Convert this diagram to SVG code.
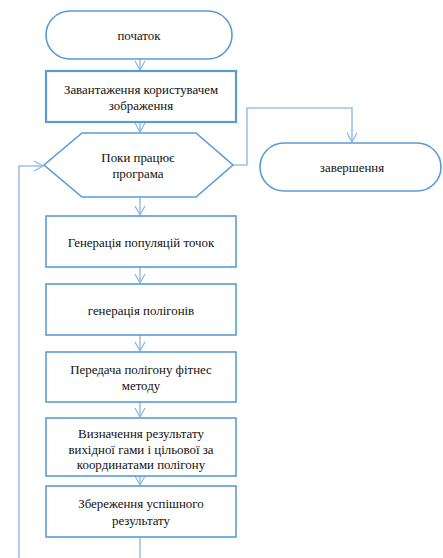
<svg xmlns="http://www.w3.org/2000/svg" width="443" height="558" viewBox="0 0 443 558">
<defs>
<marker id="arr" markerWidth="12" markerHeight="12" refX="10" refY="6" orient="auto" markerUnits="userSpaceOnUse">
<path d="M1,1 L10,6 L1,11" fill="none" stroke="#8db9e3" stroke-width="1.3"/>
</marker>
<style>
.n{fill:#fff;stroke:#5b9bd5;stroke-width:1.6}
.nb{fill:#fff;stroke:#5b9bd5;stroke-width:2.2}
.c{fill:none;stroke:#9dc3e6;stroke-width:1.6}
.t{fill:#111;text-anchor:middle}
</style>
</defs>
<rect width="443" height="558" fill="#fff"/>
<g id="connectors">
<path class="c" d="M140,59 V70" marker-end="url(#arr)"/>
<path class="c" d="M140,122 V132" marker-end="url(#arr)"/>
<path class="c" d="M233,165 H247 V108 H352 V142" marker-end="url(#arr)"/>
<path class="c" d="M19,558 V166 H43" marker-end="url(#arr)"/>
<path class="c" d="M140,197 V215" marker-end="url(#arr)"/>
<path class="c" d="M140,267 V283" marker-end="url(#arr)"/>
<path class="c" d="M140,335 V351" marker-end="url(#arr)"/>
<path class="c" d="M140,402 V417" marker-end="url(#arr)"/>
<path class="c" d="M140,476 V485" marker-end="url(#arr)"/>
<path class="c" d="M140,537 V558"/>
</g>
<g id="start">
<rect class="n" x="46" y="11" width="186" height="48" rx="24"/>
<text class="t" font-family="Liberation Serif" font-size="12.9" x="139" y="40">початок</text>
</g>
<g id="load">
<rect class="nb" x="46" y="71" width="190" height="51"/>
<text class="t" font-family="Liberation Serif" font-size="12.9" x="141" y="94">Завантаження користувачем</text>
<text class="t" font-family="Liberation Serif" font-size="12.9" x="141" y="110">зображення</text>
</g>
<g id="loop">
<polygon class="n" points="44,165 82,133 196,133 233,165 196,197 82,197"/>
<text class="t" font-family="Liberation Serif" font-size="12.9" x="138" y="162">Поки працює</text>
<text class="t" font-family="Liberation Serif" font-size="12.9" x="138" y="178">програма</text>
</g>
<g id="end">
<rect class="n" x="260" y="143" width="181" height="48" rx="24"/>
<text class="t" font-family="Liberation Serif" font-size="12.9" x="352" y="172">завершення</text>
</g>
<g id="gen-points">
<rect class="n" x="46" y="216" width="190" height="51"/>
<text class="t" font-family="Liberation Serif" font-size="12.9" x="141" y="247">Генерація популяцій точок</text>
</g>
<g id="gen-poly">
<rect class="n" x="46" y="284" width="190" height="51"/>
<text class="t" font-family="Liberation Serif" font-size="12.9" x="141" y="315">генерація полігонів</text>
</g>
<g id="fitness">
<rect class="n" x="46" y="352" width="190" height="50"/>
<text class="t" font-family="Liberation Serif" font-size="12.9" x="141" y="374">Передача полігону фітнес</text>
<text class="t" font-family="Liberation Serif" font-size="12.9" x="141" y="390">методу</text>
</g>
<g id="result">
<rect class="n" x="46" y="418" width="190" height="58"/>
<text class="t" font-family="Liberation Serif" font-size="12.9" x="141" y="438">Визначення результату</text>
<text class="t" font-family="Liberation Serif" font-size="12.9" x="141" y="454">вихідної гами і цільової за</text>
<text class="t" font-family="Liberation Serif" font-size="12.9" x="141" y="469">координатами полігону</text>
</g>
<g id="save">
<rect class="n" x="46" y="486" width="190" height="51"/>
<text class="t" font-family="Liberation Serif" font-size="12.9" x="141" y="508">Збереження успішного</text>
<text class="t" font-family="Liberation Serif" font-size="12.9" x="141" y="525">результату</text>
</g>
</svg>
